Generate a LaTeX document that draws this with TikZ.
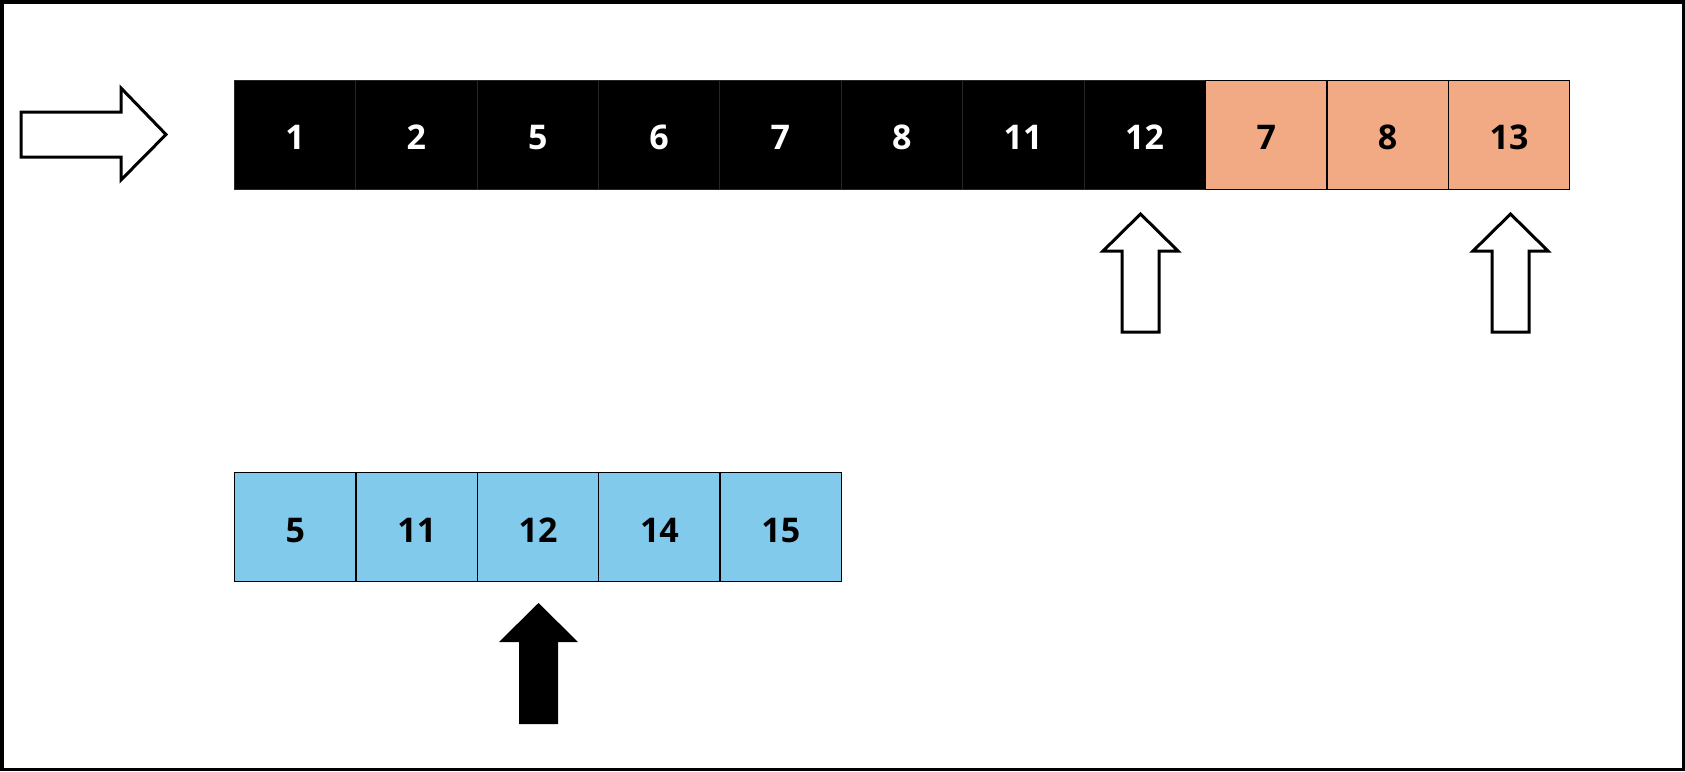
\documentclass[tikz,border=0pt]{standalone}
\usepackage{fontspec}
\setmainfont{Open Sans}
\usetikzlibrary{calc}
\definecolor{salmon}{RGB}{241,170,132}
\definecolor{skyb}{RGB}{130,202,235}
\begin{document}
\begin{tikzpicture}[x=1pt,y=-1pt,
  cell/.style={rectangle, minimum width=121.36pt, minimum height=109pt, inner sep=0pt,
    font=\fontsize{34}{34}\selectfont\bfseries, text height=30pt, text depth=0pt, anchor=north west},
  blk/.style={cell, fill=black, draw=black!85, line width=0.6pt, text=white},
  org/.style={cell, fill=salmon, draw=black, line width=1.4pt},
  blu/.style={cell, fill=skyb, draw=black, line width=1.4pt},
  hollow/.style={draw=black, fill=white, line width=3pt, line join=miter},
  solidarrow/.style={fill=black, draw=none},
  frame/.style={draw=black, line width=3.5pt}]
\useasboundingbox (0,0) rectangle (1685,771);
\draw[frame] (1.75,1.75) rectangle (1683.25,769.25);
% top row
\foreach \v [count=\i from 0] in {1,2,5,6,7,8,11,12}
  \node[blk] (t\i) at (234+\i*121.36,79.5) {\v};
\foreach \v [count=\i from 8] in {7,8,13}
  \node[org] (t\i) at (234+\i*121.36,79.5) {\v};
% bottom row
\foreach \v [count=\i from 0] in {5,11,12,14,15}
  \node[blu] (b\i) at (234+\i*121.36,472) {\v};
% left arrow
\draw[hollow] (21,112) -- (121,112) -- (121,88) -- (166,134.5) -- (121,180) -- (121,157) -- (21,157) -- cycle;
% hollow up arrows
\draw[hollow] (1122,332) -- (1122,251) -- (1103,251) -- (1140.5,214) -- (1178,251) -- (1159,251) -- (1159,332) -- cycle;
\draw[hollow] (1492,332) -- (1492,251) -- (1473,251) -- (1510.5,214) -- (1548,251) -- (1529,251) -- (1529,332) -- cycle;
% solid up arrow
\fill[solidarrow] (519,724) -- (519,642) -- (499,642) -- (538.5,603) -- (578,642) -- (558,642) -- (558,724) -- cycle;
\end{tikzpicture}
\end{document}
